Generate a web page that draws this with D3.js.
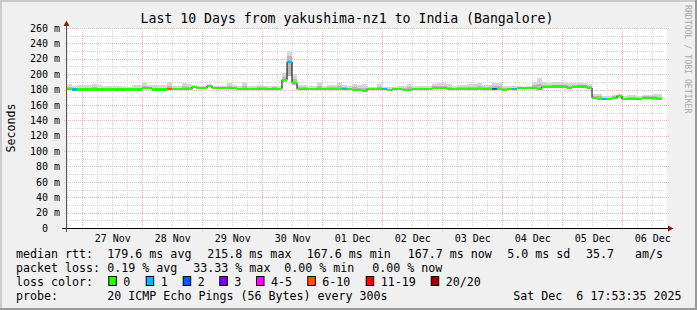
<!DOCTYPE html>
<html><head><meta charset="utf-8">
<script src="https://cdn.jsdelivr.net/npm/d3@7"></script>
<style>
html,body{margin:0;padding:0;background:#f0f0f0;}
svg{display:block;}
text{font-family:"DejaVu Sans Mono",monospace;white-space:pre;}
</style></head><body>
<svg id="chart" width="697" height="310"></svg>
<script>
// ---------- data ----------
const title = "Last 10 Days from yakushima-nz1 to India (Bangalore)";
const yTicks = [0,20,40,60,80,100,120,140,160,180,200,220,240,260];
const yTickLabels = ["0  ","20 m","40 m","60 m","80 m","100 m","120 m","140 m","160 m","180 m","200 m","220 m","240 m","260 m"];
const xTickDays = ["2025-11-27","2025-11-28","2025-11-29","2025-11-30","2025-12-01","2025-12-02","2025-12-03","2025-12-04","2025-12-05","2025-12-06"];
const xTickLabels = ["27 Nov","28 Nov","29 Nov","30 Nov","01 Dec","02 Dec","03 Dec","04 Dec","05 Dec","06 Dec"];
const startTime = "2025-11-26T17:53:35Z";
const endTime = "2025-12-06T17:53:35Z";
const binHours = 2;

// median rtt (ms) per 2h bin
const median = [
 180.5,180,180,180,180,180,180,180,180,180,
 180,180,180,180,180,181.5,181.5,180,180,180,
 180.5,180.5,180.5,180.5,180.5,183,181.5,181.5,184.5,181.5,
 181.5,181.5,181.5,181.5,180.5,180.5,180.5,180.5,181,181,
 181,181,181,192.5,215.8,189,180.5,180.5,180.5,180.5,
 180.5,180.5,180.5,180.5,180.5,180.5,180.5,179.5,179,178.5,
 180.5,180.5,180.5,180.5,179,180.5,180.5,179.5,179.5,180.5,
 180.5,180.5,180.5,181.5,181.5,181.5,180.5,180.5,180.5,180.5,
 180.5,180.5,180.5,180.5,180.5,180.5,180.5,179.5,180.5,181,
 181.5,181.5,181.5,182,181,183.5,183.5,184,184,184,
 182.5,183.5,184,184,182,169.5,167.7,167.5,167.7,169,
 172,167.7,167.7,167.7,167.7,169,169,168.5,167.7
];
// smoke: lowest ping, upper quartile-ish, highest ping (ms)
const smokeLo = [
 179.5,179,179,179,179,179,179,179,179,179,
 179,179,179,179,179,180.5,180.5,179,179,179,
 179.5,179.5,179.5,179.5,179.5,182,180.5,180.5,183.5,180.5,
 180.5,180.5,180.5,180.5,179.5,179.5,179.5,179.5,180,180,
 180,180,180,190,198,186,179.5,179.5,179.5,179.5,
 179.5,179.5,179.5,179.5,179.5,179.5,179.5,178.5,178,177.5,
 179.5,179.5,179.5,179.5,178,179.5,179.5,178.5,178.5,179.5,
 179.5,179.5,179.5,180.5,180.5,180.5,179.5,179.5,179.5,179.5,
 179.5,179.5,179.5,179.5,179.5,179.5,179.5,178.5,179.5,180,
 180.5,180.5,180.5,181,180,182.5,182.5,183,183,183,
 181.5,182.5,183,183,181,167.5,166.5,166.5,166.5,167.5,
 169.5,166.5,166.5,166.5,166.5,167.5,167.5,167,166.5
];
const smokeMid = [
 183,182,182.5,182.5,182.5,183,182.5,182,182,182,
 182,181.5,181.5,182.5,182.5,185,183.5,182.5,182.5,182.5,
 184.5,182.5,182.5,184,183.5,184.5,183,183,185.5,183,
 183,183,185,183.5,182.5,184,182.5,182.5,183.5,183,
 182.5,183,182.5,196,224,194,183,183,182.5,182.5,
 184.5,182.5,183,183,184.5,183,182.5,183,182.5,182.5,
 182,181.5,183.5,181.5,181,181.5,182,181.5,183,182.5,
 182.5,182.5,182.5,184,184.5,185,183.5,182.5,183,183,
 183.5,183.5,184,183,183,184.5,184,182,182.5,182.5,
 182.5,182.5,182.5,185.5,187.5,186.5,186,186.5,186.5,186.5,
 185,185.5,186,186,184.5,171.5,171,169.5,169.5,171,
 173,169.5,170.5,170,169,171,171,171,170.5
];
const smokeHi = [
 187,184,186,185.5,186,187,186,184.5,184.5,184.5,
 184,183,183,185.5,185.5,190,185.5,185.5,186,185.5,
 190,185,185,188,187,186,184.5,184.5,187,185,
 184.5,185,189,186,185,188,184.5,184.5,186,185,
 184,185,184,201,230,200,185.5,185.5,184.5,184.5,
 189.4,184.5,186,186,189,185.5,184.5,187,186,187,
 183.5,183,187,183,183,183,184,184,187,184.5,
 184.5,184.5,184.5,187,188,189,187,184.5,185.5,185.5,
 187,187,188,185.5,186,189,188,184.5,184.5,184,
 184,183.5,184,190,194.6,190,189,189.8,189.8,189.5,
 188,188,188,188,187,173.8,174.6,171.5,172,173,
 174.5,172,173.4,172.5,171,173,173,173.8,173.8
];
// lost pings (of 20) per bin
const lossCount = [
 0,1,0,0,0,0,0,0,0,0,
 0,0,0,0,0,0,0,0,0,0,
 7,0,0,0,0,0,0,0,0,0,
 0,0,0,0,0,0,0,0,0,0,
 0,0,0,0,1,0,0,0,0,0,
 0,0,0,0,0,1,0,0,0,0,
 0,0,0,1,0,0,0,0,0,0,
 0,0,0,0,0,0,0,0,0,0,
 0,0,0,0,0,2,0,0,0,1,
 0,0,0,0,0,0,0,0,0,0,
 0,0,0,0,0,0,0,1,0,0,
 0,0,0,0,0,0,0,0,0
];
const lossLabels = ["0","1","2","3","4-5","6-10","11-19","20/20"];
const lossMax    = [0,1,2,3,5,10,19,20];
const lossColors = ["#26ff00","#00b8ff","#0059ff","#7e00ff","#ff00ff","#ff5500","#ff0000","#a10000"];

const legendRtt  = [["median rtt:",16],["179.6 ms avg",107.3],["215.8 ms max",207.3],["167.6 ms min",306.7],["167.7 ms now",407.7],["5.0 ms sd",507.3],["35.7   am/s",586]];
const legendLoss = [["packet loss:",16],["0.19 % avg",107.3],["33.33 % max",193.3],["0.00 % min",284.3],["0.00 % now",372.3]];
const legendProbe = [["probe:",16],["20 ICMP Echo Pings (56 Bytes) every 300s",107.3],["Sat Dec  6 17:53:35 2025",513.3]];
const lossBoxX = [108.3,145.7,182.7,219.3,256,307.3,365.7,430.7];

// ---------- drawing ----------
const W = 697, H = 310;
const svg = d3.select("#chart");
const t0 = new Date(startTime), t1 = new Date(endTime);
const x = d3.scaleUtc().domain([t0, t1]).range([67, 667]);
const y = d3.scaleLinear().domain([0, 260]).range([228, 28]);

// background + 3D frame
svg.append("rect").attr("width", W).attr("height", H).attr("fill", "#f0f0f0");
svg.append("path").attr("d", `M0,0H${W}V2H2V${H}H0Z`).attr("fill", "#cbcbcb");
svg.append("path").attr("d", `M${W},0V${H}H0V${H-2}H${W-2}V0Z`).attr("fill", "#999999");
// canvas
svg.append("rect").attr("x", 67).attr("y", 28).attr("width", 600).attr("height", 200).attr("fill", "#ffffff");

const grid = svg.append("g").attr("shape-rendering", "crispEdges");
// minor horizontal
for (let v = 10; v <= 260; v += 20) {
  grid.append("line").attr("x1", 67).attr("x2", 667).attr("y1", Math.round(y(v)) + 0.5).attr("y2", Math.round(y(v)) + 0.5)
    .attr("stroke", "#d8d8d8").attr("stroke-dasharray", "1,1");
}
// minor vertical every 6h
const minorT = d3.utcHour.every(6).range(t0, t1).filter(d => d.getUTCHours() !== 0);
minorT.forEach(d => {
  const xx = Math.round(x(d)) + 0.5;
  grid.append("line").attr("x1", xx).attr("x2", xx).attr("y1", 28).attr("y2", 230)
    .attr("stroke", "#d8d8d8").attr("stroke-dasharray", "1,1");
});
// major horizontal
yTicks.forEach(v => {
  if (v === 0) return;
  grid.append("line").attr("x1", 64).attr("x2", 669).attr("y1", Math.round(y(v)) + 0.5).attr("y2", Math.round(y(v)) + 0.5)
    .attr("stroke", "#eab8b8").attr("stroke-dasharray", "1,1");
});
// major vertical at midnights
d3.utcDay.range(t0, t1).forEach(d => {
  const xx = Math.round(x(d)) + 0.5;
  grid.append("line").attr("x1", xx).attr("x2", xx).attr("y1", 28).attr("y2", 231)
    .attr("stroke", "#eab8b8").attr("stroke-dasharray", "1,1");
});

// bins
const binMs = binHours * 3600 * 1000;
const binStart = d3.range(median.length).map(i => new Date(t0.getTime() + i * binMs));
const binEnd = binStart.map(d => new Date(d.getTime() + binMs));

const smoke = svg.append("g").attr("shape-rendering", "crispEdges");
median.forEach((m, i) => {
  const x0 = Math.round(x(binStart[i])), x1 = Math.round(x(binEnd[i]));
  smoke.append("rect").attr("x", x0).attr("width", x1 - x0)
    .attr("y", y(smokeHi[i])).attr("height", y(smokeLo[i]) - y(smokeHi[i])).attr("fill", "#d6d6d6");
  smoke.append("rect").attr("x", x0).attr("width", x1 - x0)
    .attr("y", y(smokeMid[i])).attr("height", y(smokeLo[i]) - y(smokeMid[i])).attr("fill", "#b8b8b8");
});

// median step line
const pts = median.map((m, i) => [Math.round(x(binStart[i])), y(m)]);
pts.push([Math.round(x(binEnd[median.length - 1])), y(median[median.length - 1])]);
svg.append("path").attr("d", d3.line().curve(d3.curveStepAfter)(pts))
  .attr("fill", "none").attr("stroke", "#000").attr("stroke-width", 1);

// loss-coloured median
const lossIndex = c => lossMax.findIndex(mx => c <= mx);
const med = svg.append("g").attr("shape-rendering", "crispEdges");
median.forEach((m, i) => {
  const x0 = Math.round(x(binStart[i])), x1 = Math.round(x(binEnd[i]));
  med.append("rect").attr("x", x0).attr("width", x1 - x0)
    .attr("y", y(m) - 1.1).attr("height", 2.2).attr("fill", lossColors[lossIndex(lossCount[i])]);
});

// axes
const yAxis = d3.axisLeft(y).tickValues(yTicks).tickFormat((d, i) => yTickLabels[i]).tickSize(0).tickPadding(7);
const gy = svg.append("g").attr("transform", "translate(67,0)").call(yAxis);
gy.select(".domain").remove();
gy.selectAll("text").attr("font-size", "10px").attr("fill", "#000").attr("font-family", "DejaVu Sans Mono");

const noon = xTickDays.map(s => new Date(s + "T12:00:00Z"));
const xAxis = d3.axisBottom(x).tickValues(noon).tickFormat((d, i) => xTickLabels[i]).tickSize(0).tickPadding(6.5);
const gx = svg.append("g").attr("transform", "translate(0,228)").call(xAxis);
gx.select(".domain").remove();
gx.selectAll("text").attr("font-size", "10px").attr("fill", "#000").attr("font-family", "DejaVu Sans Mono");

svg.append("line").attr("x1", 62).attr("x2", 669).attr("y1", 228.5).attr("y2", 228.5).attr("stroke", "#000").attr("shape-rendering", "crispEdges");
svg.append("line").attr("x1", 66.5).attr("x2", 66.5).attr("y1", 232).attr("y2", 24).attr("stroke", "#555").attr("shape-rendering", "crispEdges");
svg.append("path").attr("d", "M668,225.5L673.5,228.5L668,231.5Z").attr("fill", "#901818");
svg.append("path").attr("d", "M63.5,26L66.5,20.5L69.5,26Z").attr("fill", "#901818");

// title
svg.append("text").attr("x", 347).attr("y", 23).attr("text-anchor", "middle")
  .attr("font-size", "13.2px").attr("fill", "#000").text(title);
// y title
svg.append("text").attr("transform", "translate(15,128) rotate(-90)").attr("text-anchor", "middle")
  .attr("font-size", "11.6px").attr("fill", "#000").text("Seconds");
// watermark
svg.append("text").attr("transform", "translate(685,5) rotate(90)")
  .attr("font-size", "8.2px").attr("fill", "#a8a8a8").text("RRDTOOL / TOBI OETIKER");

// legend
const lg = svg.append("g").attr("font-size", "11.65px").attr("fill", "#000");
const row = (items, yy) => items.forEach(([t, xx]) => lg.append("text").attr("x", xx).attr("y", yy).text(t));
row(legendRtt, 258);
row(legendLoss, 272);
row([["loss color:", 16]], 286);
lossLabels.forEach((l, i) => {
  lg.append("rect").attr("x", lossBoxX[i] + 0.5).attr("y", 276.5).attr("width", 7.5).attr("height", 9)
    .attr("fill", lossColors[i]).attr("stroke", "#000").attr("stroke-width", 1);
  lg.append("text").attr("x", lossBoxX[i] + 15).attr("y", 286).text(l);
});
row(legendProbe, 300);
</script>
</body></html>
